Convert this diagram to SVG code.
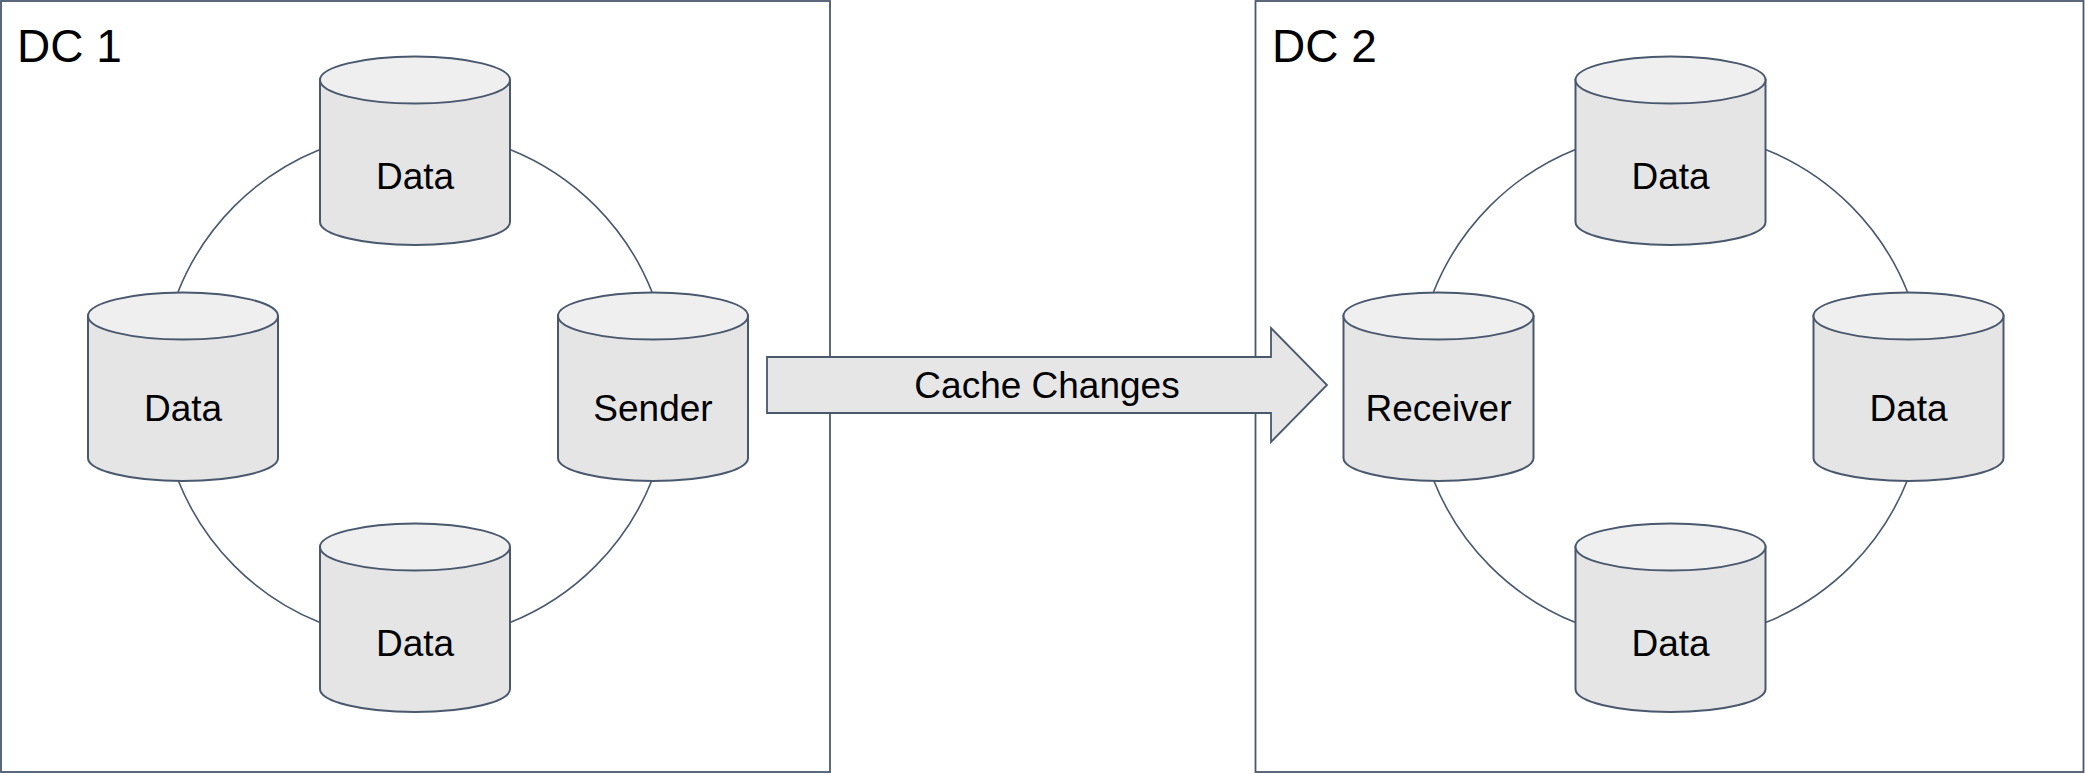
<svg xmlns="http://www.w3.org/2000/svg" xmlns:xlink="http://www.w3.org/1999/xlink" width="2085" height="774" viewBox="0 0 2085 774">
  <style>
    .dc { fill: #ffffff; stroke: #4a586e; stroke-width: 1.8; }
    .dc-label { font-family: "Liberation Sans", Arial, sans-serif; font-size: 46px; fill: #000000; }
    .node-label { font-family: "Liberation Sans", Arial, sans-serif; font-size: 37px; fill: #000000; text-anchor: middle; }
    .ring { fill: none; stroke: #4a586e; stroke-width: 1.6; }
    .flow { fill: #e6e6e6; stroke: #4a586e; stroke-width: 1.8; stroke-linejoin: miter; }
  </style>
  <defs>
    <!-- database cylinder, 190 x 189, origin at top-left -->
    <g id="cylinder">
      <path d="M0,24 L0,166 A95,23 0 0,0 190,166 L190,24 Z" fill="#e5e5e5" stroke="#4a586e" stroke-width="2"/>
      <ellipse cx="95" cy="24" rx="95" ry="23.5" fill="#efefef" stroke="#4a586e" stroke-width="2"/>
    </g>
  </defs>

  <rect width="2085" height="774" fill="#ffffff"/>

  <!-- data center frames -->
  <g id="dc1">
    <rect class="dc" x="1" y="1" width="829" height="771"/>
    <text class="dc-label" x="17" y="62">DC 1</text>
  </g>
  <g id="dc2">
    <rect class="dc" x="1255.5" y="1" width="828" height="771"/>
    <text class="dc-label" x="1272" y="62">DC 2</text>
  </g>

  <!-- replication ring links -->
  <g id="connectors">
    <path class="ring" d="M320,149.4 A255,255 0 0,0 178,292"/>
    <path class="ring" d="M510,149.4 A255,255 0 0,1 652,292"/>
    <path class="ring" d="M178,480 A255,255 0 0,0 320,622.6"/>
    <path class="ring" d="M652,480 A255,255 0 0,1 510,622.6"/>

    <path class="ring" d="M1575.5,149.4 A255,255 0 0,0 1433.5,292"/>
    <path class="ring" d="M1765.5,149.4 A255,255 0 0,1 1907.5,292"/>
    <path class="ring" d="M1433.5,480 A255,255 0 0,0 1575.5,622.6"/>
    <path class="ring" d="M1907.5,480 A255,255 0 0,1 1765.5,622.6"/>
  </g>

  <!-- DC 1 nodes -->
  <g id="dc1-top">
    <use xlink:href="#cylinder" x="320" y="56"/>
    <text class="node-label" x="415" y="189">Data</text>
  </g>
  <g id="dc1-left">
    <use xlink:href="#cylinder" x="88" y="292"/>
    <text class="node-label" x="183" y="421">Data</text>
  </g>
  <g id="dc1-sender">
    <use xlink:href="#cylinder" x="558" y="292"/>
    <text class="node-label" x="653" y="421">Sender</text>
  </g>
  <g id="dc1-bottom">
    <use xlink:href="#cylinder" x="320" y="523"/>
    <text class="node-label" x="415" y="656">Data</text>
  </g>

  <!-- DC 2 nodes -->
  <g id="dc2-top">
    <use xlink:href="#cylinder" x="1575.5" y="56"/>
    <text class="node-label" x="1670.5" y="189">Data</text>
  </g>
  <g id="dc2-receiver">
    <use xlink:href="#cylinder" x="1343.5" y="292"/>
    <text class="node-label" x="1438.5" y="421">Receiver</text>
  </g>
  <g id="dc2-right">
    <use xlink:href="#cylinder" x="1813.5" y="292"/>
    <text class="node-label" x="1908.5" y="421">Data</text>
  </g>
  <g id="dc2-bottom">
    <use xlink:href="#cylinder" x="1575.5" y="523"/>
    <text class="node-label" x="1670.5" y="656">Data</text>
  </g>

  <!-- cross-site replication arrow -->
  <g id="cache-changes">
    <polygon class="flow" points="767,357 1271,357 1271,328 1327,385 1271,442 1271,413 767,413"/>
    <text class="node-label" x="1047" y="398">Cache Changes</text>
  </g>
</svg>
